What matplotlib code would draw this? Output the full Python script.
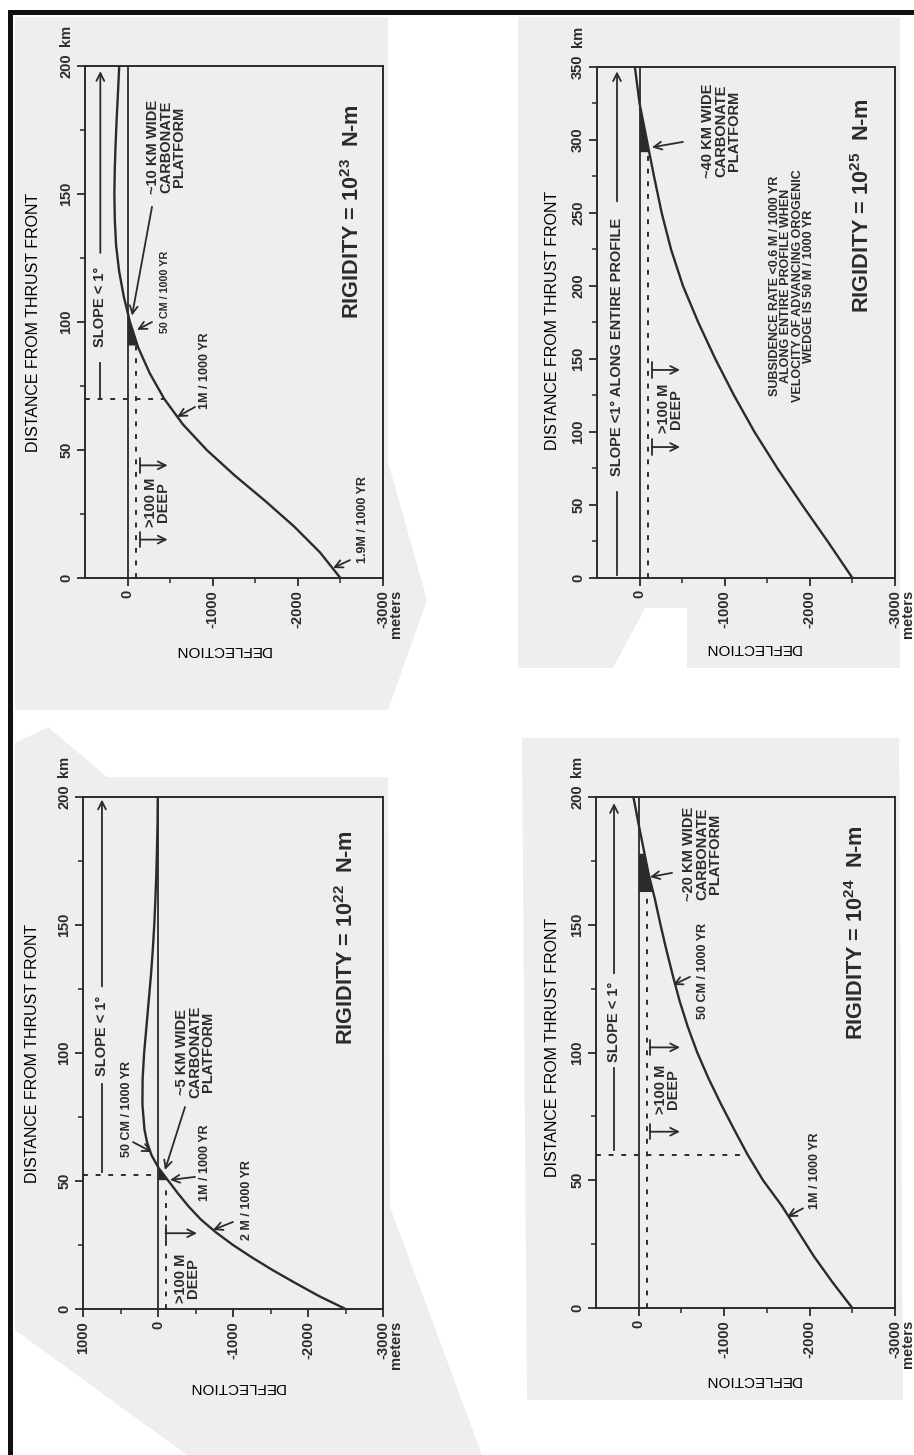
import numpy as np
import matplotlib
matplotlib.use('Agg')
import matplotlib.pyplot as plt
from matplotlib import font_manager
from matplotlib.patches import Polygon, Rectangle

# flexural profiles: distance from thrust front (km) and deflection (m)
dist_22 = [0, 5, 10, 15, 20, 25, 30, 35, 40, 45, 50, 55, 60, 65, 70, 80, 90, 100,
           110, 120, 130, 140, 150, 160, 170, 180, 190, 200]
defl_22 = [-2500, -2150, -1840, -1540, -1260, -1000, -770, -570, -410, -270, -140, -10,
           85, 145, 180, 208, 205, 185, 155, 125, 95, 70, 50, 35, 22, 13, 6, 3]

dist_23 = [0, 10, 20, 30, 40, 50, 60, 70, 80, 90, 100, 110, 120, 130, 140, 150, 160,
           170, 180, 190, 200]
defl_23 = [-2500, -2260, -1960, -1620, -1260, -930, -650, -430, -260, -125, -28, 45,
           100, 135, 150, 155, 150, 140, 127, 112, 98]

dist_24 = [0, 10, 20, 30, 40, 50, 60, 70, 80, 90, 100, 110, 120, 130, 140, 150, 160,
           170, 180, 190, 200]
defl_24 = [-2500, -2270, -2055, -1865, -1675, -1455, -1275, -1115, -960, -815, -685,
           -575, -480, -400, -325, -255, -190, -115, -55, 5, 62]

dist_25 = [0, 25, 50, 75, 100, 125, 150, 175, 200, 225, 250, 275, 300, 325, 350]
defl_25 = [-2500, -2210, -1910, -1620, -1350, -1110, -890, -690, -510, -370, -260,
           -170, -85, 0, 55]

dist_ticks_200 = [0, 50, 100, 150, 200]
dist_ticks_350 = [0, 50, 100, 150, 200, 250, 300, 350]
defl_ticks = [0, -1000, -2000, -3000]
defl_ticks_22 = [1000, 0, -1000, -2000, -3000]

W, H = 914, 1455
INK = '#2b2b2b'
PAPER = '#eeeeee'

plt.rcParams['font.family'] = ['Liberation Sans', 'DejaVu Sans']
plt.rcParams['font.weight'] = 'bold'
plt.rcParams['mathtext.default'] = 'regular'
plt.rcParams['text.color'] = INK

try:
    font_manager.findfont(font_manager.FontProperties(family='Liberation Sans Narrow'),
                          fallback_to_default=False)
    NARROW, squeeze = ['Liberation Sans Narrow', 'Liberation Sans'], 1.0
except ValueError:
    NARROW, squeeze = ['Liberation Sans', 'DejaVu Sans'], 0.82

fig = plt.figure(figsize=(W / 100, H / 100), dpi=100)


def fig_pts(pts):
    return [(x / W, 1 - y / H) for x, y in pts]


# pasted-up paper pieces and the page frame
pieces = [
    [(15, 17), (388, 17), (388, 462), (427, 600), (388, 710), (15, 710)],
    [(518, 17), (900, 17), (900, 668), (687, 668), (687, 608), (645, 608), (613, 668), (518, 668)],
    [(15, 743), (48, 727), (107, 777), (388, 777), (390, 1207), (482, 1455), (187, 1455), (15, 1330)],
    [(522, 738), (899, 738), (903, 1400), (527, 1400)],
]
for pts in pieces:
    fig.add_artist(Polygon(fig_pts(pts), closed=True, transform=fig.transFigure,
                           fc=PAPER, ec='none', zorder=-5))
fig.add_artist(Rectangle((8 / W, 0), 5 / W, 1 - 10 / H, transform=fig.transFigure,
                         fc='#111111', ec='none', zorder=-4))
fig.add_artist(Rectangle((8 / W, 1 - 15 / H), 1 - 8 / W, 5 / H, transform=fig.transFigure,
                         fc='#111111', ec='none', zorder=-4))


def panel(box, dist, defl, xlim, yticks, xticks, xlab, ylab):
    l, t, r, b = box
    ax = fig.add_axes([l / W, 1 - b / H, (r - l) / W, (b - t) / H])
    ax.set_facecolor('none')
    ax.plot(defl, dist, color=INK, lw=1.7, zorder=3)
    ax.axvline(0, color=INK, lw=1.3, zorder=2)
    ax.set_xlim(xlim)
    ax.set_ylim(0, yticks[-1])

    ax.set_yticks(yticks)
    ax.set_yticklabels([str(v) for v in yticks], rotation=90, va='center')
    ax.set_yticks(np.arange(25, yticks[-1], 50), minor=True)
    ax.set_xticks(xticks)
    ax.set_xticklabels([str(v) for v in xticks], rotation=90)
    ax.set_xticks([v - 500 for v in xticks[:-1]], minor=True)

    for s in ax.spines.values():
        s.set_linewidth(1.4)
        s.set_color(INK)
    ax.tick_params(which='major', direction='out', length=5.5, width=1.3, pad=3,
                   labelsize=10.5, colors=INK)
    ax.tick_params(which='minor', direction='out', length=3.5, width=1.1, colors=INK)

    ax.annotate('km', xy=(0, yticks[-1]), xycoords=('axes fraction', 'data'),
                xytext=(-8.5, 14.5), textcoords='offset points', rotation=90,
                ha='right', va='bottom', fontsize=10.5)
    ax.annotate('meters', xy=(-3000, 0), xycoords=('data', 'axes fraction'),
                xytext=(4.5, -8.5), textcoords='offset points', rotation=90,
                ha='left', va='top', fontsize=10.5)

    ax.set_xlabel('DEFLECTION', rotation=180, fontsize=11, va='center')
    ax.xaxis.set_label_coords(*xlab)
    ax.set_ylabel('DISTANCE FROM THRUST FRONT', fontsize=11.5, va='center')
    ax.yaxis.set_label_coords(*ylab)
    return ax


def note(ax, x, y, s, size=10.5, family=None, ls=0.9):
    ax.text(x, y, s, rotation=90, ha='center', va='center', multialignment='center',
            fontsize=size, family=family or plt.rcParams['font.family'], linespacing=ls,
            zorder=4)


def small(ax, x, y, s, size=11, ls=0.9):
    note(ax, x, y, s, size=size * squeeze, family=NARROW, ls=ls)


def arrow(ax, x0, y0, x1, y1):
    ax.annotate('', xy=(x1, y1), xytext=(x0, y0),
                arrowprops=dict(arrowstyle='->', color=INK, lw=1.3, shrinkA=0, shrinkB=0,
                                mutation_scale=14), zorder=4)


def slope(ax, x, seg, ty, arr, s):
    ax.plot([x, x], seg, color=INK, lw=1.3)
    note(ax, x, ty, s)
    arrow(ax, x, arr[0], x, arr[1])


def deep(ax, x0, x1, ys, tx, ty):
    for y in ys:
        ax.annotate('', xy=(x1, y), xytext=(x0, y),
                    arrowprops=dict(arrowstyle=']->,widthA=0.4,lengthA=0', color=INK,
                                    lw=1.3, shrinkA=0, shrinkB=0, mutation_scale=14))
    note(ax, tx, ty, '>100 M\nDEEP')


def dashed(ax, xs, ys):
    ax.plot(xs, ys, color=INK, lw=1.4, dashes=(2.5, 4), zorder=2)


def platform(ax, dist, defl, lo, hi):
    d = np.linspace(lo, hi, 60)
    w = np.minimum(np.interp(d, dist, defl), 0)
    ax.fill_betweenx(d, w, 0, color=INK, lw=0, zorder=2)


def rigidity(ax, x, y, exp):
    note(ax, x, y, 'RIGIDITY = 10$^{%s}$  N-m' % exp, size=19 * squeeze, family=NARROW)


# rigidity 10^23
ax = panel((85, 66, 383, 578), dist_23, defl_23, (500, -3000), dist_ticks_200, defl_ticks,
           (0.463, -0.141), (-0.174, 0.5))
dashed(ax, [-100, -100], [0, 92])
dashed(ax, [500, -430], [70, 70])
platform(ax, dist_23, defl_23, 91, 101)
slope(ax, 320, (70, 84), 106, (127, 198), 'SLOPE < 1°')
deep(ax, -150, -470, [44, 15], -346, 29.5)
small(ax, -909, 81, '1M / 1000 YR')
arrow(ax, -792, 66.8, -580, 62.9)
small(ax, -440, 111.7, '50 CM / 1000 YR', 9.5)
arrow(ax, -287, 100, -111, 96.9)
note(ax, -451, 168.5, '~10 KM WIDE\nCARBONATE\nPLATFORM')
arrow(ax, -287, 145, -52, 102.5)
small(ax, -2765, 22.7, '1.9M / 1000 YR')
arrow(ax, -2612, 7, -2413, 3.9)
rigidity(ax, -2648, 143, '23')

# rigidity 10^25
ax = panel((597, 67, 895, 578), dist_25, defl_25, (500, -3000), dist_ticks_350, defl_ticks,
           (0.523, -0.137), (-0.148, 0.505))
dashed(ax, [-100, -100], [0, 290])
platform(ax, dist_25, defl_25, 292, 322)
slope(ax, 265, (2, 59), 158, (258, 347), 'SLOPE <1° ALONG ENTIRE PROFILE')
deep(ax, -150, -475, [142.5, 89.7], -357, 116)
note(ax, -956, 306, '~40 KM WIDE\nCARBONATE\nPLATFORM')
arrow(ax, -510, 298.7, -146, 295)
small(ax, -1790, 200, 'SUBSIDENCE RATE <0.6 M / 1000 YR\nALONG ENTIRE PROFILE WHEN\n'
      'VELOCITY OF ADVANCING OROGENIC\nWEDGE IS 50 M / 1000 YR', 11, ls=0.95)
rigidity(ax, -2624, 255, '25')

# rigidity 10^22
ax = panel((83, 797, 383, 1309), dist_22, defl_22, (1000, -3000), dist_ticks_200,
           defl_ticks_22, (0.513, -0.152), (-0.167, 0.5))
dashed(ax, [-100, -100], [0, 47])
dashed(ax, [1000, 0], [52.5, 52.5])
platform(ax, dist_22, defl_22, 50.5, 55)
slope(ax, 747, (53.5, 88), 106.5, (126, 199), 'SLOPE < 1°')
deep(ax, -100, -520, [29.6], -387, 12)
small(ax, 413, 78, '50 CM / 1000 YR')
arrow(ax, 333, 65.2, 80, 61.3)
note(ax, -493, 100.4, '~5 KM WIDE\nCARBONATE\nPLATFORM')
arrow(ax, -360, 78.9, -93, 54.3)
small(ax, -627, 57, '1M / 1000 YR')
arrow(ax, -493, 51.6, -160, 50.4)
small(ax, -1187, 42.6, '2 M / 1000 YR')
arrow(ax, -1000, 34, -733, 30.9)
rigidity(ax, -2520, 145, '22')

# rigidity 10^24
ax = panel((596, 797, 895, 1308), dist_24, defl_24, (500, -3000), dist_ticks_200, defl_ticks,
           (0.525, -0.141), (-0.147, 0.509))
dashed(ax, [-100, -100], [0, 167])
dashed(ax, [500, -1275], [59.8, 59.8])
platform(ax, dist_24, defl_24, 163, 178)
slope(ax, 289, (62, 94), 112, (131, 197.6), 'SLOPE < 1°')
deep(ax, -130, -483, [102, 69], -331, 85.5)
small(ax, -752, 132, '50 CM / 1000 YR')
arrow(ax, -600, 129.6, -401, 126.4)
note(ax, -741, 177.7, '~20 KM WIDE\nCARBONATE\nPLATFORM')
arrow(ax, -390, 170.3, -132, 168.7)
small(ax, -2064, 53.6, '1M / 1000 YR')
arrow(ax, -1923, 39, -1736, 35.6)
rigidity(ax, -2555, 146.8, '24')

fig.savefig('out.png', dpi=100)
